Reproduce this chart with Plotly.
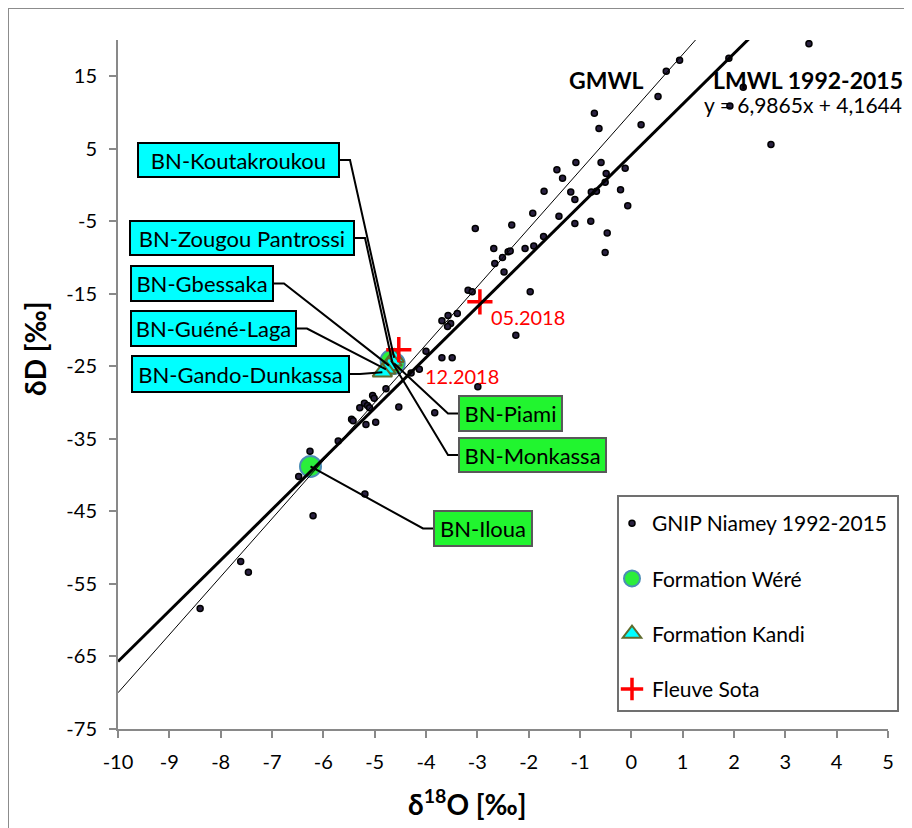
import plotly.graph_objects as go

# ---------------- data ----------------
gnip_d18o = [3.46, 1.90, 0.94, 0.68, 2.18, 0.52, 1.92, -0.72, -0.63, 0.19,
             2.72, -1.08, -0.59, -1.45, -0.49, -1.34, -0.12, -0.51, -0.78, -0.68,
             -1.70, -1.18, -1.10, -0.21, -0.07, -1.92, -2.33, -3.04, -1.41, -1.10,
             -0.79, -0.47, -0.51, -1.71, -1.90, -2.07, -2.68, -2.40, -2.36, -2.51,
             -2.66, -2.48, -1.97, -3.18, -3.10, -3.39, -3.57, -3.69, -3.52, -3.58,
             -2.25, -4.00, -3.69, -3.49, -4.13, -4.29, -2.99, -4.78, -5.04, -5.01,
             -5.20, -5.14, -5.29, -5.10, -4.53, -3.83, -5.45, -5.42, -5.17, -4.98,
             -5.71, -6.26, -6.48, -6.20, -5.19, -7.61, -7.46, -8.40]
gnip_dD = [19.5, 17.5, 17.2, 15.7, 13.5, 12.2, 10.9, 9.9, 7.8, 8.3,
           5.6, 3.1, 3.1, 2.1, 1.6, 0.95, 2.3, 0.4, -0.97, -0.84,
           -0.84, -0.97, -2.0, -0.65, -2.85, -3.9, -5.5, -6.0, -4.3, -5.3,
           -5.0, -6.6, -9.3, -7.1, -8.4, -8.75, -8.75, -9.2, -9.1, -10.0,
           -10.8, -12.0, -14.7, -14.5, -14.7, -17.7, -18.0, -18.7, -19.1, -19.5,
           -20.7, -22.9, -23.8, -23.8, -25.4, -25.9, -27.8, -28.1, -29.0, -29.4,
           -30.1, -30.4, -30.7, -30.7, -30.6, -31.4, -32.3, -32.5, -33.0, -32.7,
           -35.3, -36.7, -40.2, -45.6, -42.6, -51.9, -53.4, -58.4]

were_names = ["BN-Iloua", "BN-Piami", "BN-Monkassa"]
were_d18o = [-6.25, -4.62, -4.68]
were_dD = [-38.8, -24.6, -24.2]

kandi_names = ["BN-Koutakroukou", "BN-Zougou Pantrossi", "BN-Gbessaka",
               "BN-Guéné-Laga", "BN-Gando-Dunkassa"]
kandi_d18o = [-4.62, -4.66, -4.72, -4.78, -4.85]
kandi_dD = [-23.8, -24.3, -24.9, -25.4, -25.8]

sota_dates = ["12.2018", "05.2018"]
sota_d18o = [-4.53, -2.95]
sota_dD = [-22.7, -16.1]

gmwl_slope, gmwl_intercept = 8.0, 10.0
lmwl_slope, lmwl_intercept = 6.9865, 4.1644
lmwl_equation = "y = 6,9865x + 4,1644"

x_ticks = list(range(-10, 6))
y_ticks = [-75, -65, -55, -45, -35, -25, -15, -5, 5, 15]
x_range = [-10, 5]
y_range = [-75, 20]

# ---------------- layout constants ----------------
# page pixel coordinates; the page body adds an 8 px offset
OFF = 8
PAGE_W, PAGE_H = 912, 828
PLOT_L, PLOT_R, PLOT_T, PLOT_B = 118, 888, 40, 729   # page px
W, H = PAGE_W - OFF, PAGE_H - OFF
ML, MT = PLOT_L - OFF, PLOT_T - OFF
MR, MB = W - (PLOT_R - OFF), H - (PLOT_B - OFF)
PW, PH = PLOT_R - PLOT_L, PLOT_B - PLOT_T
FONT = "Lato"


def px_to_paper(px, py):
    return (px - PLOT_L) / PW, (PLOT_B - py) / PH


def px_to_data(px, py):
    fx, fy = px_to_paper(px, py)
    return (x_range[0] + fx * (x_range[1] - x_range[0]),
            y_range[0] + fy * (y_range[1] - y_range[0]))


# label boxes: (left, top, right, bottom) in page px, side where leader leaves
label_boxes = {
    "BN-Koutakroukou": ((137, 142, 340, 178), "right"),
    "BN-Zougou Pantrossi": ((129, 220, 355, 256), "right"),
    "BN-Gbessaka": ((130, 265, 274, 302), "right"),
    "BN-Guéné-Laga": ((130, 310, 297, 347), "right"),
    "BN-Gando-Dunkassa": ((131, 355, 350, 393), "right"),
    "BN-Piami": ((458, 395, 563, 432), "left"),
    "BN-Monkassa": ((458, 437, 607, 473), "left"),
    "BN-Iloua": ((433, 510, 533, 547), "left"),
}

fig = go.Figure()

fig.add_trace(go.Scatter(
    x=gnip_d18o, y=gnip_dD, mode="markers", name="GNIP Niamey 1992-2015",
    legendgroup="g1", legendrank=1,
    marker=dict(size=6, color="#2a2140", line=dict(color="black", width=1.5))))

fig.add_trace(go.Scatter(
    x=were_d18o, y=were_dD, mode="markers", name="Formation Wéré",
    legendgroup="g2", legendrank=2,
    marker=dict(size=21, color="#2bee3c", line=dict(color="#4b8db5", width=2))))

fig.add_trace(go.Scatter(
    x=kandi_d18o, y=kandi_dD, mode="markers", name="Formation Kandi",
    legendgroup="g3", legendrank=3,
    marker=dict(symbol="triangle-up", size=17, color="#00ffff",
                line=dict(color="#5f6b2d", width=2))))

fig.add_trace(go.Scatter(
    x=sota_d18o, y=sota_dD, mode="markers", name="Fleuve Sota",
    legendgroup="g4", legendrank=4,
    marker=dict(symbol="cross-thin", size=18, color="#ff0000",
                line=dict(color="#ff0000", width=3.5))))

# meteoric water lines
fig.add_trace(go.Scatter(
    x=x_range, y=[gmwl_slope * v + gmwl_intercept for v in x_range],
    mode="lines", line=dict(color="black", width=1), showlegend=False,
    hoverinfo="skip"))
fig.add_trace(go.Scatter(
    x=x_range, y=[lmwl_slope * v + lmwl_intercept for v in x_range],
    mode="lines", line=dict(color="black", width=3), showlegend=False,
    hoverinfo="skip"))

annotations = []
points = {}
for n, xv, yv in zip(kandi_names, kandi_d18o, kandi_dD):
    points[n] = (xv, yv, "#00ffff", "black")
for n, xv, yv in zip(were_names, were_d18o, were_dD):
    points[n] = (xv, yv, "#21f52f", "#595959")

for name, ((l, t, r, b), side) in label_boxes.items():
    px, py, fill, border = points[name]
    cy = (t + b) / 2
    if side == "right":
        e0 = px_to_data(r, cy)
        e1 = px_to_data(r + 10, cy)
    else:
        e0 = px_to_data(l, cy)
        e1 = px_to_data(l - 10, cy)
    fig.add_trace(go.Scatter(
        x=[e0[0], e1[0], px], y=[e0[1], e1[1], py], mode="lines",
        line=dict(color="black", width=2), showlegend=False, hoverinfo="skip"))
    cx, cyp = px_to_paper((l + r) / 2, cy)
    annotations.append(dict(
        x=cx, y=cyp, xref="paper", yref="paper", xanchor="center",
        yanchor="middle", text=name, showarrow=False,
        width=r - l - 4, height=b - t - 4, bgcolor=fill, bordercolor=border,
        borderwidth=2, borderpad=0,
        font=dict(family=FONT, size=22, color="black")))

# Sota date labels
sota_offsets = [(24, 26), (9, 15)]
for d, xv, yv, (dx, dy) in zip(sota_dates, sota_d18o, sota_dD, sota_offsets):
    annotations.append(dict(
        x=xv, y=yv, xref="x", yref="y", text=d, showarrow=False,
        xanchor="left", yanchor="middle", xshift=dx, yshift=-dy,
        font=dict(family=FONT, size=20, color="#ff0000")))

# line labels
gx, gy = px_to_paper(606, 80)
annotations.append(dict(x=gx, y=gy, xref="paper", yref="paper", text="<b>GMWL</b>",
                        showarrow=False, xanchor="center", yanchor="middle",
                        font=dict(family=FONT, size=23, color="black")))
lx, ly = px_to_paper(808, 80)
annotations.append(dict(x=lx, y=ly, xref="paper", yref="paper",
                        text="<b>LMWL 1992-2015</b>",
                        showarrow=False, xanchor="center", yanchor="middle",
                        font=dict(family=FONT, size=23, color="black")))
ex, ey = px_to_paper(803, 105)
annotations.append(dict(x=ex, y=ey, xref="paper", yref="paper", text=lmwl_equation,
                        showarrow=False, xanchor="center", yanchor="middle",
                        font=dict(family=FONT, size=21, color="black")))

# axis titles
tx, ty = px_to_paper(35, 349)
annotations.append(dict(x=tx, y=ty, xref="paper", yref="paper", text="<b>δD [‰]</b>",
                        showarrow=False, textangle=-90, xanchor="center",
                        yanchor="middle",
                        font=dict(family=FONT, size=28, color="black")))
bx, by = px_to_paper(467, 802)
annotations.append(dict(x=bx, y=by, xref="paper", yref="paper",
                        text="<b>δ<sup>18</sup>O [‰]</b>",
                        showarrow=False, xanchor="center", yanchor="middle",
                        font=dict(family=FONT, size=28, color="black")))

# outer chart frame (left and top edges visible) and legend frame
fx0, fy0 = px_to_paper(8, 8)
fx1, fy1 = px_to_paper(940, 860)
lb0x, lb0y = px_to_paper(618, 496)
lb1x, lb1y = px_to_paper(898, 711)
shapes = [
    dict(type="rect", xref="paper", yref="paper", x0=fx0, y0=fy1, x1=fx1, y1=fy0,
         line=dict(color="#8c8c8c", width=2), layer="below"),
    dict(type="rect", xref="paper", yref="paper", x0=lb0x, y0=lb1y, x1=lb1x, y1=lb0y,
         line=dict(color="#707070", width=2), fillcolor="white", layer="below"),
]

lgx, lgy = px_to_paper(612, 503)

axis_common = dict(showline=True, linecolor="#898989", linewidth=2,
                   ticks="outside", ticklen=7, tickwidth=2, tickcolor="#898989",
                   showgrid=False, zeroline=False,
                   tickfont=dict(family=FONT, size=20, color="black"))

fig.update_layout(
    width=W, height=H,
    margin=dict(l=ML, r=MR, t=MT, b=MB),
    paper_bgcolor="white", plot_bgcolor="white",
    xaxis=dict(range=x_range, tickvals=x_ticks, ticktext=[str(v) for v in x_ticks],
               ticklabelstandoff=7, **axis_common),
    yaxis=dict(range=y_range, tickvals=y_ticks, ticktext=[str(v) for v in y_ticks],
               ticklabelstandoff=8, **axis_common),
    legend=dict(x=lgx, y=lgy, xanchor="left", yanchor="top",
                bgcolor="rgba(0,0,0,0)", borderwidth=0,
                font=dict(family=FONT, size=21, color="black"),
                tracegroupgap=25, itemwidth=30),
    annotations=annotations,
    shapes=shapes,
    showlegend=True,
)

fig.write_html("out.html")
